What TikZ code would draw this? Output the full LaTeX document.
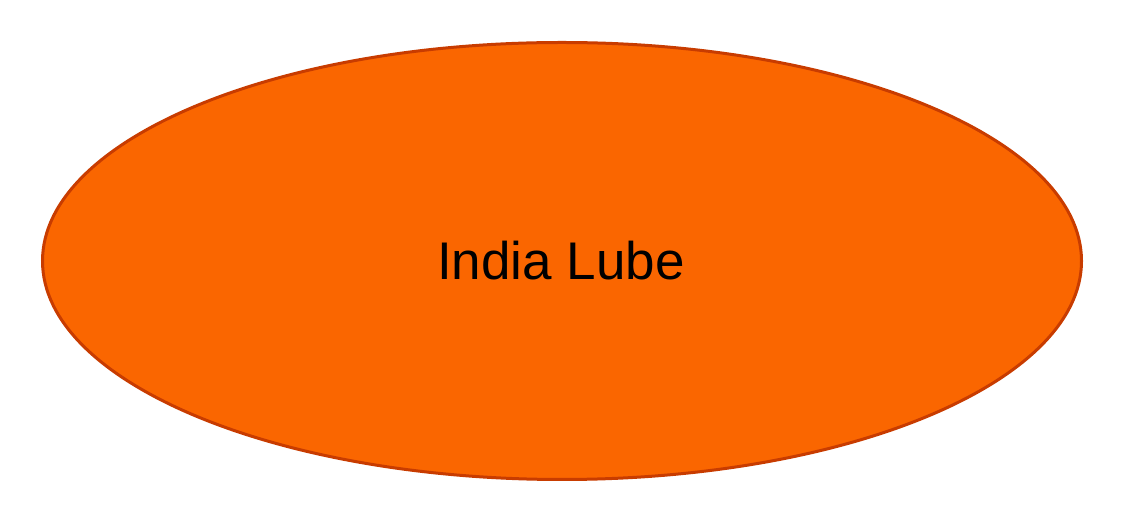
\documentclass[tikz,border=0pt]{standalone}
\usepackage{fontspec}
\setmainfont{Liberation Sans}
\usetikzlibrary{shapes.geometric}
\definecolor{fillor}{HTML}{FA6600}
\definecolor{edgeor}{HTML}{C83C00}
\tikzset{blob/.style={ellipse, draw=edgeor, fill=fillor, line width=3pt, minimum width=1039pt, minimum height=437pt, inner sep=0pt}}
\begin{document}
\begin{tikzpicture}[x=1pt,y=1pt]
\useasboundingbox (0,0) rectangle (1124,524);
\node[blob] (lube) at (562,263) {};
\node[anchor=base, font=\fontsize{53}{60}\selectfont, inner sep=0pt] (label) at (561,244) {India Lube};
\end{tikzpicture}
\end{document}
